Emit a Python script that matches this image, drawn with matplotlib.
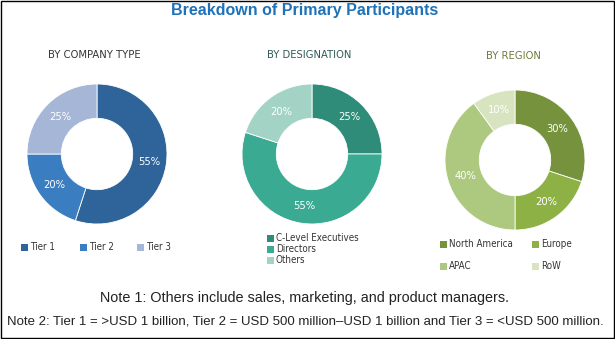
import matplotlib.pyplot as plt
from matplotlib.patches import Rectangle

W, H, DPI = 615, 339, 100

company_labels = ["Tier 1", "Tier 2", "Tier 3"]
company_values = [55, 20, 25]
company_colors = ["#2E6499", "#3A7DC0", "#A5B6D6"]

designation_labels = ["C-Level Executives", "Directors", "Others"]
designation_values = [25, 55, 20]
designation_colors = ["#2F8C78", "#3AAA92", "#A3D3C4"]

region_labels = ["North America", "Europe", "APAC", "RoW"]
region_values = [30, 20, 40, 10]
region_colors = ["#76923C", "#8DB145", "#ADC97F", "#D8E4C0"]

plt.rcParams["font.family"] = ["Liberation Sans", "DejaVu Sans"]

fig = plt.figure(figsize=(W / DPI, H / DPI), dpi=DPI)
fig.patch.set_facecolor("white")


def donut(cx, cy, values, colors, r=70):
    # square axes centred on a pixel position (y measured from the top)
    ax = fig.add_axes([(cx - r) / W, 1 - (cy + r) / H, 2 * r / W, 2 * r / H])
    ax.pie(values, colors=colors, startangle=90, counterclock=False, radius=1.0,
           wedgeprops=dict(width=0.49, edgecolor="white", linewidth=0.6),
           labels=[f"{v}%" for v in values], labeldistance=0.75,
           textprops=dict(color="white", fontsize=8, ha="center", va="center",
                          family=["DejaVu Sans"], stretch="condensed"))
    ax.set_xlim(-1, 1)
    ax.set_ylim(-1, 1)
    ax.set_aspect("equal")
    ax.axis("off")
    return ax


def legend_item(x, y, color, label):
    fig.patches.append(Rectangle((x / W, 1 - (y + 3.5) / H), 7 / W, 7 / H,
                                 transform=fig.transFigure, facecolor=color, edgecolor="none"))
    fig.text((x + 9) / W, 1 - y / H, label, fontsize=7, color="#333333",
             ha="left", va="center", family=["DejaVu Sans"], stretch="condensed")


# frame
fig.patches.append(Rectangle((0.5 / W, 1.5 / H), (W - 2) / W, (H - 2) / H,
                             transform=fig.transFigure, fill=False, edgecolor="black", linewidth=1))

fig.text(305 / W, 1 - 10 / H, "Breakdown of Primary Participants", ha="center", va="center",
         fontsize=11.5, fontweight="bold", color="#1F72B8")

sub = dict(ha="center", va="center", fontsize=8, family=["DejaVu Sans"], stretch="condensed")
fig.text(94 / W, 1 - 55 / H, "BY COMPANY TYPE", color="#333333", **sub)
fig.text(309 / W, 1 - 55 / H, "BY DESIGNATION", color="#2E5A55", **sub)
fig.text(513 / W, 1 - 56 / H, "BY REGION", color="#6E7A3A", **sub)

donut(97, 154, company_values, company_colors)
donut(312, 154, designation_values, designation_colors)
donut(515, 160, region_values, region_colors)

for x, c, l in zip([21, 80, 137], company_colors, company_labels):
    legend_item(x, 247, c, l)

for y, c, l in zip([238, 249, 260], designation_colors, designation_labels):
    legend_item(267, y, c, l)

for (x, y), c, l in zip([(440, 244), (532, 244), (440, 266), (532, 266)], region_colors, region_labels):
    legend_item(x, y, c, l)

fig.text(305 / W, 1 - 298 / H, "Note 1: Others include sales, marketing, and product managers.",
         ha="center", va="center", fontsize=10.4, color="#222222")
fig.text(305 / W, 1 - 322 / H,
         "Note 2: Tier 1 = >USD 1 billion, Tier 2 = USD 500 million\u2013USD 1 billion and Tier 3 = <USD 500 million.",
         ha="center", va="center", fontsize=9.5, color="#222222")

fig.savefig("out.png", dpi=DPI, facecolor="white")
